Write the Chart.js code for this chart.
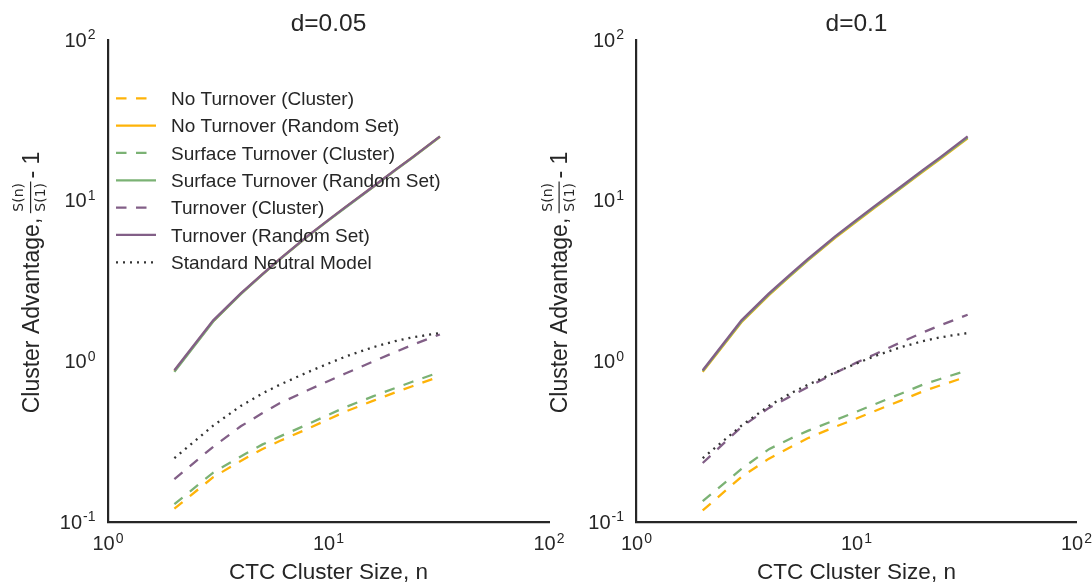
<!DOCTYPE html>
<html>
<head>
<meta charset="utf-8">
<script src="https://cdn.jsdelivr.net/npm/chart.js@4.4.0/dist/chart.umd.min.js"></script>
<style>
    body { margin: 0; background: #fff; }
    #wrap { position: relative; width: 1092px; height: 584px; overflow: hidden; background: #fff; }
    #chartLeft { position: absolute; left: 0; top: 0; }
    #chartRight { position: absolute; left: 530px; top: 0; }
</style>
</head>
<body>
<div id="wrap">
    <canvas id="chartLeft" width="580" height="584" style="width:580px;height:584px"></canvas>
    <canvas id="chartRight" width="562" height="584" style="width:562px;height:584px"></canvas>
</div>
<script>
// cluster sizes n (x values)
const clusterSizes = [2, 3, 4, 5, 6, 8, 10, 12, 16, 20, 24, 32];

// d = 0.05 panel
const noTurnoverClusterA = [0.121, 0.19, 0.24, 0.284, 0.319, 0.379, 0.436, 0.488, 0.569, 0.639, 0.70, 0.805];
const noTurnoverRandomA = [0.87, 1.78, 2.63, 3.46, 4.31, 5.97, 7.56, 9.15, 12.25, 15.45, 18.55, 25.0];
const surfaceClusterA = [0.129, 0.203, 0.256, 0.303, 0.34, 0.404, 0.465, 0.52, 0.607, 0.681, 0.746, 0.857];
const surfaceRandomA = [0.86, 1.77, 2.62, 3.45, 4.29, 5.95, 7.53, 9.1, 12.2, 15.4, 18.5, 25.0];
const turnoverClusterA = [0.185, 0.294, 0.394, 0.475, 0.548, 0.658, 0.755, 0.843, 1.0, 1.14, 1.265, 1.47];
const turnoverRandomA = [0.88, 1.80, 2.65, 3.48, 4.33, 6.0, 7.59, 9.18, 12.3, 15.5, 18.6, 25.1];

// d = 0.1 panel
const noTurnoverClusterB = [0.118, 0.191, 0.248, 0.292, 0.332, 0.391, 0.441, 0.488, 0.572, 0.65, 0.708, 0.805];
const noTurnoverRandomB = [0.86, 1.75, 2.58, 3.40, 4.23, 5.87, 7.42, 8.97, 12.0, 15.1, 18.15, 24.4];
const surfaceClusterB = [0.135, 0.214, 0.284, 0.33, 0.369, 0.431, 0.486, 0.538, 0.631, 0.716, 0.776, 0.88];
const surfaceRandomB = [0.87, 1.77, 2.61, 3.43, 4.27, 5.93, 7.49, 9.06, 12.1, 15.3, 18.35, 24.7];
const turnoverClusterB = [0.233, 0.391, 0.513, 0.605, 0.69, 0.847, 0.982, 1.10, 1.318, 1.51, 1.675, 1.95];
const turnoverRandomB = [0.88, 1.80, 2.65, 3.48, 4.33, 6.0, 7.59, 9.18, 12.3, 15.5, 18.6, 25.1];

// standard neutral model (same in both panels)
const neutralModel = [0.25, 0.398, 0.528, 0.63, 0.714, 0.853, 0.97, 1.074, 1.227, 1.334, 1.41, 1.50];

const seriesLabels = [
    "No Turnover (Cluster)",
    "No Turnover (Random Set)",
    "Surface Turnover (Cluster)",
    "Surface Turnover (Random Set)",
    "Turnover (Cluster)",
    "Turnover (Random Set)",
    "Standard Neutral Model"
];
const panelTitles = ["d=0.05", "d=0.1"];
const xAxisLabel = "CTC Cluster Size, n";
const xTickPowers = [0, 1, 2];
const yTickPowers = [-1, 0, 1, 2];

// styling
const textColor = '#262626';
const amber = '#feb308', fadedGreen = '#7bb274', dustyPurple = '#825f87';
const dashed = [10.5, 9.5], dotted = [2, 5];
const seriesColors = [amber, amber, fadedGreen, fadedGreen, dustyPurple, dustyPurple, '#333333'];
const seriesDash = [dashed, [], dashed, [], dashed, [], dotted];
const sansFont = '"Liberation Sans", Arial, sans-serif';
const mathFont = '"DejaVu Sans", sans-serif';

//..build the line datasets for one panel
function buildDatasets(seriesList) {
    return seriesList.map((values, i) => ({
        label: seriesLabels[i],
        data: clusterSizes.map((n, k) => ({ x: n, y: values[k] })),
        borderColor: seriesColors[i],
        backgroundColor: seriesColors[i],
        borderDash: seriesDash[i],
        borderWidth: 2.3,
        pointRadius: 0,
        fill: false,
        tension: 0,
        order: seriesList.length - i   // later series on top, like matplotlib
    }));
}

//..draw "10" with a raised exponent
function drawPower(ctx, p, x, baseY, align) {
    ctx.font = '20px ' + sansFont;
    const baseW = ctx.measureText('10').width;
    ctx.font = '14px ' + sansFont;
    const sup = String(p);
    const supW = ctx.measureText(sup).width;
    const total = baseW + 1 + supW;
    const left = align === 'center' ? x - total / 2 : x - total;
    ctx.textAlign = 'left';
    ctx.textBaseline = 'alphabetic';
    ctx.font = '20px ' + sansFont;
    ctx.fillText('10', left, baseY);
    ctx.font = '14px ' + sansFont;
    ctx.fillText(sup, left + baseW + 1, baseY - 7.5);
}

//..rotated y label with the S(n)/S(1) fraction
function drawYLabel(ctx, x, cy) {
    const mainFont = '23px ' + sansFont;
    const fracFont = '14px ' + mathFont;
    ctx.save();
    ctx.translate(x, cy);
    ctx.rotate(-Math.PI / 2);
    ctx.textAlign = 'left';
    ctx.textBaseline = 'alphabetic';
    ctx.font = mainFont;
    const head = 'Cluster Advantage,';
    const tail = '- 1';
    const headW = ctx.measureText(head).width;
    const tailW = ctx.measureText(tail).width;
    ctx.font = fracFont;
    const numW = ctx.measureText('S(n)').width;
    const denW = ctx.measureText('S(1)').width;
    const barW = Math.max(numW, denW) + 3;
    const total = headW + 4.5 + barW + 3 + tailW;
    let cx = -total / 2;
    ctx.font = mainFont;
    ctx.fillText(head, cx, 0);
    cx += headW + 4.5;
    ctx.font = fracFont;
    ctx.fillText('S(n)', cx + (barW - numW) / 2, -15.5);
    ctx.fillRect(cx, -8.6, barW, 1.2);
    ctx.fillText('S(1)', cx + (barW - denW) / 2, 6.5);
    cx += barW + 3;
    ctx.font = mainFont;
    ctx.fillText(tail, cx, 0);
    ctx.restore();
}

//..legend inside the left panel
function drawLegend(chart) {
    const { ctx, chartArea } = chart;
    ctx.save();
    chart.data.datasets.forEach((ds, i) => {
        const y = 98.3 + i * 27.33;
        ctx.beginPath();
        ctx.setLineDash(ds.borderDash);
        ctx.lineDashOffset = 0;
        ctx.strokeStyle = ds.borderColor;
        ctx.lineWidth = 2.3;
        ctx.moveTo(chartArea.left + 8, y);
        ctx.lineTo(chartArea.left + 48, y);
        ctx.stroke();
        ctx.setLineDash([]);
        ctx.fillStyle = textColor;
        ctx.font = '19px ' + sansFont;
        ctx.textAlign = 'left';
        ctx.textBaseline = 'alphabetic';
        ctx.fillText(ds.label, chartArea.left + 63, y + 6.8);
    });
    ctx.restore();
}

const decorPlugin = {
    id: 'decor',
    afterDatasetsDraw(chart, args, opts) {
        if (opts.showLegend) {
            drawLegend(chart);
        }
    },
    afterDraw(chart, args, opts) {
        const { ctx, chartArea } = chart;
        const xs = chart.scales.x;
        const ys = chart.scales.y;
        ctx.save();
        ctx.fillStyle = textColor;

        // tick labels
        xTickPowers.forEach(p => {
            drawPower(ctx, p, xs.getPixelForValue(Math.pow(10, p)), chartArea.bottom + 28, 'center');
        });
        yTickPowers.forEach(p => {
            drawPower(ctx, p, chartArea.left - 12.5, ys.getPixelForValue(Math.pow(10, p)) + 6.7, 'right');
        });

        // title
        const midX = (chartArea.left + chartArea.right) / 2;
        ctx.textAlign = 'center';
        ctx.textBaseline = 'alphabetic';
        ctx.font = '24.5px ' + sansFont;
        ctx.fillText(opts.title, midX, 30.7);

        // x label
        ctx.font = '22.5px ' + sansFont;
        ctx.fillText(xAxisLabel, midX, chartArea.bottom + 56.7);

        // y label
        drawYLabel(ctx, chartArea.left - 69.4, (chartArea.top + chartArea.bottom) / 2 + 1.5);
        ctx.restore();
    }
};

function axisOptions(min, max) {
    return {
        type: 'logarithmic',
        min: min,
        max: max,
        grid: { display: false, drawTicks: false, tickLength: 0 },
        ticks: { display: false },
        border: { display: true, color: textColor, width: 2.2 }
    };
}

function createPanel(canvasId, seriesList, title, padding, showLegend) {
    const ctx = document.getElementById(canvasId);
    return new Chart(ctx, {
        type: 'line',
        data: { datasets: buildDatasets(seriesList) },
        options: {
            responsive: false,
            animation: false,
            layout: { padding: padding },
            plugins: {
                legend: { display: false },
                tooltip: { enabled: false },
                decor: { title: title, showLegend: showLegend }
            },
            scales: {
                x: axisOptions(1, 100),
                y: axisOptions(0.1, 100)
            }
        },
        plugins: [decorPlugin]
    });
}

createPanel('chartLeft',
    [noTurnoverClusterA, noTurnoverRandomA, surfaceClusterA, surfaceRandomA, turnoverClusterA, turnoverRandomA, neutralModel],
    panelTitles[0], { left: 108, top: 40, right: 31, bottom: 62 }, true);

createPanel('chartRight',
    [noTurnoverClusterB, noTurnoverRandomB, surfaceClusterB, surfaceRandomB, turnoverClusterB, turnoverRandomB, neutralModel],
    panelTitles[1], { left: 106.5, top: 40, right: 15.5, bottom: 62 }, false);
</script>
</body>
</html>
